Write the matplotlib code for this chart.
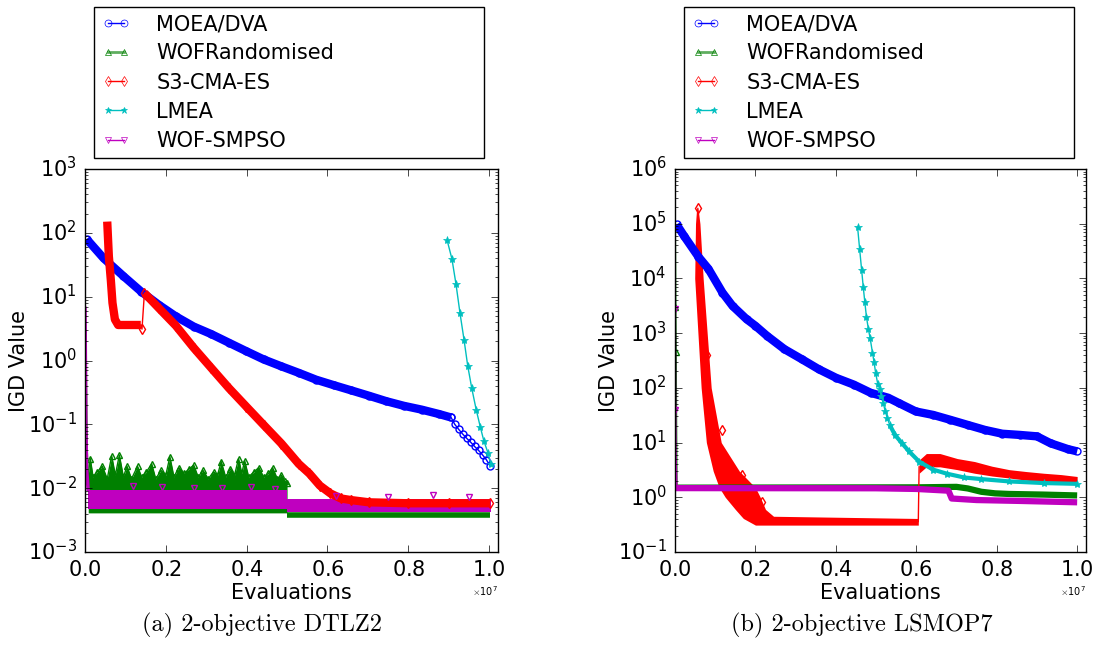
import numpy as np
import matplotlib
matplotlib.use("Agg")
import matplotlib.pyplot as plt
from matplotlib.lines import Line2D
from matplotlib.ticker import ScalarFormatter

plt.style.use("classic")
plt.rcParams.update({
    "font.family": ["DejaVu Sans"],
    "figure.facecolor": "white",
    "savefig.facecolor": "white",
    "axes.formatter.use_mathtext": True,
    "xtick.labelsize": 15,
    "ytick.labelsize": 15,
    "axes.labelsize": 15,
    "xtick.major.size": 5, "xtick.minor.size": 2.5,
    "ytick.major.size": 5, "ytick.minor.size": 2.5,
    "xtick.major.pad": 6, "ytick.major.pad": 6,
    "legend.numpoints": 2,
})

EVAL_UNIT = 1e7          # evaluations are listed in units of 1e7
BAND = 6                 # width used for densely sampled runs

labels = ["MOEA/DVA", "WOFRandomised", "S3-CMA-ES", "LMEA", "WOF-SMPSO"]
colors = ["b", "g", "r", "c", "m"]
markers = ["o", "^", "d", "*", "v"]

# ---------------- 2-objective DTLZ2 ----------------
dtlz_moea_x = [0.004, 0.046, 0.095, 0.139, 0.182, 0.225, 0.269, 0.312, 0.356, 0.399, 0.442,
               0.486, 0.529, 0.572, 0.616, 0.659, 0.703, 0.746, 0.789, 0.833, 0.876, 0.906]
dtlz_moea_y = [80, 40, 21, 12, 7.5, 4.9, 3.4, 2.6, 1.9, 1.4, 1.04,
               0.81, 0.64, 0.50, 0.41, 0.34, 0.28, 0.23, 0.195, 0.17, 0.145, 0.128]
dtlz_moea_tail_x = [0.906, 0.915, 0.925, 0.935, 0.945, 0.955, 0.964, 0.974, 0.984, 0.993, 1.003]
dtlz_moea_tail_y = [0.128, 0.100, 0.083, 0.070, 0.060, 0.052, 0.045, 0.039, 0.033, 0.028, 0.022]

dtlz_wofr_init_x = [0.000, 0.001, 0.002, 0.003, 0.005, 0.008]
dtlz_wofr_init_y = [3.0, 0.5, 0.12, 0.04, 0.018, 0.013]
dtlz_wofr_x = [0.008, 0.013, 0.020, 0.030, 0.043, 0.055, 0.066, 0.075, 0.085, 0.095, 0.104, 0.115,
               0.130, 0.140, 0.152, 0.165, 0.175, 0.188, 0.200, 0.210, 0.220, 0.232, 0.245, 0.258,
               0.269, 0.280, 0.292, 0.305, 0.318, 0.328, 0.337, 0.348, 0.360, 0.370, 0.380, 0.388,
               0.395, 0.405, 0.418, 0.430, 0.442, 0.454, 0.464, 0.476, 0.486, 0.494, 0.500]
dtlz_wofr_top = [0.016, 0.029, 0.015, 0.018, 0.022, 0.014, 0.032, 0.016, 0.033, 0.015, 0.022, 0.014,
                 0.022, 0.015, 0.018, 0.024, 0.014, 0.019, 0.016, 0.031, 0.015, 0.021, 0.017, 0.020,
                 0.023, 0.015, 0.019, 0.014, 0.018, 0.016, 0.026, 0.015, 0.020, 0.016, 0.029, 0.017,
                 0.027, 0.015, 0.018, 0.021, 0.015, 0.017, 0.021, 0.014, 0.016, 0.013, 0.012]
dtlz_wofr_floor = 0.0041
dtlz_wofr_flat_x = [0.500, 0.750, 1.003]
dtlz_wofr_flat_y = [0.0038, 0.0038, 0.0038]

dtlz_s3_drop_x = [0.055, 0.059, 0.064, 0.068, 0.074, 0.082, 0.100, 0.120, 0.138]
dtlz_s3_drop_y = [150, 43, 18, 8.0, 4.4, 3.6, 3.6, 3.6, 3.6]
dtlz_s3_link_x = [0.138, 0.141, 0.147]
dtlz_s3_link_y = [3.6, 3.1, 11.4]
dtlz_s3_x = [0.147, 0.182, 0.225, 0.269, 0.312, 0.356, 0.399, 0.442, 0.486, 0.529, 0.555,
             0.581, 0.607, 0.633, 0.659, 0.703, 0.800, 0.900, 1.003]
dtlz_s3_y = [11.4, 6.7, 3.5, 1.58, 0.77, 0.37, 0.19, 0.098, 0.050, 0.024, 0.017,
             0.011, 0.0083, 0.0069, 0.0065, 0.0060, 0.0058, 0.0058, 0.0058]

dtlz_lmea_x = [0.896, 0.908, 0.918, 0.928, 0.938, 0.947, 0.957, 0.968, 0.978, 0.987, 0.997, 1.004]
dtlz_lmea_y = [77, 39, 15.8, 5.5, 2.1, 0.83, 0.37, 0.17, 0.092, 0.055, 0.036, 0.024]

dtlz_smpso_init_x = [0.000, 0.001, 0.002, 0.004, 0.008]
dtlz_smpso_init_y = [7.0, 1.0, 0.1, 0.02, 0.009]
dtlz_smpso_x = [0.008, 0.500, 0.500, 1.005]
dtlz_smpso_lo = [0.0047, 0.0047, 0.0043, 0.0043]
dtlz_smpso_hi = [0.0095, 0.0095, 0.0068, 0.0068]
dtlz_smpso_peak_x = [0.12, 0.19, 0.27, 0.34, 0.41, 0.47, 0.62, 0.75, 0.86, 0.95]
dtlz_smpso_peak_y = [0.011, 0.0105, 0.010, 0.0102, 0.0105, 0.0098, 0.0075, 0.0072, 0.0078, 0.0073]

# ---------------- 2-objective LSMOP7 ----------------
lsmop_moea_x = [0.004, 0.023, 0.058, 0.083, 0.118, 0.143, 0.178, 0.200, 0.229, 0.272, 0.315, 0.358,
                0.401, 0.444, 0.487, 0.530, 0.556, 0.599, 0.642, 0.685, 0.728, 0.771, 0.814, 0.857,
                0.900, 0.934, 0.977, 1.000]
lsmop_moea_y = [97000, 59000, 25000, 15000, 5500, 3150, 1800, 1360, 890, 510, 335, 218,
                152, 115, 81, 66, 53, 37, 32, 26, 21, 17, 14.5, 13.8,
                13, 9.7, 7.6, 6.9]

lsmop_wofr_init_x = [0.000, 0.001, 0.002, 0.003, 0.004]
lsmop_wofr_init_y = [80000, 3000, 450, 20, 1.6]
lsmop_wofr_x = [0.004, 0.600, 0.700, 0.728, 0.762, 0.796, 0.831, 0.917, 1.000]
lsmop_wofr_y = [1.50, 1.52, 1.55, 1.45, 1.26, 1.18, 1.15, 1.12, 1.08]

# early S3-CMA-ES spread: left and right edges of the sample cloud at each IGD level
lsmop_s3_level = [2.0e5, 1.0e5, 1.0e4, 1.0e3, 1.0e2, 10.0, 3.0, 1.5, 1.0, 0.6, 0.45, 0.41, 0.31]
lsmop_s3_left = [0.054, 0.051, 0.049, 0.057, 0.065, 0.078, 0.095, 0.110, 0.125, 0.150, 0.165, 0.170, 0.200]
lsmop_s3_right = [0.057, 0.062, 0.070, 0.080, 0.090, 0.115, 0.160, 0.200, 0.212, 0.225, 0.245, 0.605, 0.605]
lsmop_s3_mark_x = [0.056, 0.079, 0.105, 0.116, 0.124, 0.167, 0.216]
lsmop_s3_mark_y = [1.95e5, 400, 9.8, 17, 5.5, 2.6, 0.83]
lsmop_s3_link_x = [0.605, 0.607]
lsmop_s3_link_y = [0.36, 3.6]
lsmop_s3_late_x = [0.607, 0.625, 0.659, 0.702, 0.745, 0.788, 0.831, 0.874, 0.917, 0.960, 1.000]
lsmop_s3_late_hi = [4.8, 6.3, 6.3, 5.1, 4.5, 3.7, 3.2, 2.95, 2.75, 2.6, 2.4]
lsmop_s3_late_lo = [2.75, 3.6, 3.6, 3.2, 2.75, 2.45, 2.25, 2.05, 1.9, 1.85, 1.78]

lsmop_lmea_x = [0.454, 0.459, 0.464, 0.468, 0.472, 0.476, 0.481, 0.485, 0.491, 0.495,
                0.499, 0.504, 0.509, 0.513, 0.518, 0.523, 0.528, 0.534,
                0.547, 0.564, 0.582, 0.607, 0.642, 0.676, 0.719, 0.762, 0.831, 0.917, 1.000]
lsmop_lmea_y = [87000, 35000, 14500, 7100, 3700, 2000, 1170, 830, 440, 295,
                186, 120, 95, 71, 52, 37, 28, 21,
                13.8, 9.8, 6.9, 4.5, 3.2, 2.7, 2.3, 2.15, 1.95, 1.82, 1.76]
LMEA_DENSE_FROM = 17   # index where LSMOP7 LMEA samples become dense

lsmop_smpso_init_x = [0.000, 0.001, 0.002, 0.004]
lsmop_smpso_init_y = [2800, 40, 5, 1.6]
lsmop_smpso_x = [0.000, 0.500, 0.600, 0.680, 0.688, 0.750, 0.850, 1.000]
lsmop_smpso_y = [1.47, 1.46, 1.42, 1.32, 0.95, 0.89, 0.86, 0.81]


def ev(values):
    return np.asarray(values, dtype=float) * EVAL_UNIT


def open_marks(ax, x, y, color, marker, ms=5, lw=0, **kw):
    ax.plot(ev(x), y, color=color, lw=lw, marker=marker, ms=ms,
            mfc="none", mec=color, mew=1, **kw)


def dense(ax, x, y, color, lw=BAND):
    ax.plot(ev(x), y, color=color, lw=lw, solid_capstyle="butt",
            solid_joinstyle="round")


fig = plt.figure(figsize=(11.03, 6.48), dpi=100)
ax1 = fig.add_axes([85 / 1103, 1 - 552 / 648, 413 / 1103, 383 / 648])
ax2 = fig.add_axes([675 / 1103, 1 - 552 / 648, 411 / 1103, 383 / 648])

# ---- DTLZ2 panel ----
dense(ax1, dtlz_moea_x, dtlz_moea_y, "b")
open_marks(ax1, dtlz_moea_x, dtlz_moea_y, "b", "o")
open_marks(ax1, dtlz_moea_tail_x, dtlz_moea_tail_y, "b", "o", lw=1)

dense(ax1, dtlz_wofr_init_x, dtlz_wofr_init_y, "g", lw=2.5)
ax1.fill_between(ev(dtlz_wofr_x), dtlz_wofr_floor, dtlz_wofr_top, color="g", lw=0)
open_marks(ax1, dtlz_wofr_x, dtlz_wofr_top, "g", "^", lw=1)
dense(ax1, dtlz_wofr_flat_x, dtlz_wofr_flat_y, "g", lw=4)

dense(ax1, dtlz_s3_drop_x, dtlz_s3_drop_y, "r")
ax1.plot(ev(dtlz_s3_link_x), dtlz_s3_link_y, color="r", lw=1)
open_marks(ax1, dtlz_s3_link_x[1:2], dtlz_s3_link_y[1:2], "r", "d")
dense(ax1, dtlz_s3_x, dtlz_s3_y, "r")
open_marks(ax1, dtlz_s3_x, dtlz_s3_y, "r", "d")

ax1.plot(ev(dtlz_lmea_x), dtlz_lmea_y, color="c", lw=1, marker="*", ms=6,
         mfc="c", mec="c")

dense(ax1, dtlz_smpso_init_x, dtlz_smpso_init_y, "m", lw=2.5)
ax1.fill_between(ev(dtlz_smpso_x), dtlz_smpso_lo, dtlz_smpso_hi, color="m", lw=0)
open_marks(ax1, dtlz_smpso_peak_x, dtlz_smpso_peak_y, "m", "v")

ax1.set_ylim(1e-3, 1e3)

# ---- LSMOP7 panel ----
dense(ax2, lsmop_moea_x, lsmop_moea_y, "b")
open_marks(ax2, lsmop_moea_x, lsmop_moea_y, "b", "o")

dense(ax2, lsmop_wofr_init_x, lsmop_wofr_init_y, "g", lw=1.5)
open_marks(ax2, lsmop_wofr_init_x[1:3], lsmop_wofr_init_y[1:3], "g", "^")
dense(ax2, lsmop_wofr_x, lsmop_wofr_y, "g", lw=4.5)

ax2.fill_betweenx(lsmop_s3_level, ev(lsmop_s3_left), ev(lsmop_s3_right), color="r", lw=0)
open_marks(ax2, lsmop_s3_mark_x, lsmop_s3_mark_y, "r", "d")
ax2.plot(ev(lsmop_s3_link_x), lsmop_s3_link_y, color="r", lw=1)
ax2.fill_between(ev(lsmop_s3_late_x), lsmop_s3_late_lo, lsmop_s3_late_hi, color="r", lw=0)

ax2.plot(ev(lsmop_lmea_x), lsmop_lmea_y, color="c", lw=1, marker="*", ms=6,
         mfc="c", mec="c")
dense(ax2, lsmop_lmea_x[LMEA_DENSE_FROM:], lsmop_lmea_y[LMEA_DENSE_FROM:], "c", lw=3)

dense(ax2, lsmop_smpso_init_x, lsmop_smpso_init_y, "m", lw=1.5)
open_marks(ax2, lsmop_smpso_init_x[:2], lsmop_smpso_init_y[:2], "m", "v")
dense(ax2, lsmop_smpso_x, lsmop_smpso_y, "m", lw=4.5)

ax2.set_ylim(1e-1, 1e6)

handles = []
for lab, c, m in zip(labels, colors, markers):
    line_c = "#5fae5f" if c == "g" else c
    lw = 2 if c == "g" else 1
    handles.append(Line2D([], [], color=line_c, lw=lw, marker=m, ms=5,
                          mfc=(c if m == "*" else "none"), mec=c))

for ax, caption, cx, leg_x in [(ax1, "(a) 2-objective DTLZ2", 262, 94),
                               (ax2, "(b) 2-objective LSMOP7", 862, 684)]:
    ax.set_yscale("log")
    ax.set_xlim(0, 1.022e7)
    ax.set_xticks(ev([0.0, 0.2, 0.4, 0.6, 0.8, 1.0]))
    fmt = ScalarFormatter(useMathText=True)
    fmt.set_powerlimits((0, 0))
    ax.xaxis.set_major_formatter(fmt)
    ax.xaxis.get_offset_text().set_fontsize(7)
    ax.tick_params(which="both", direction="in", top=True, right=True)
    ax.set_xlabel("Evaluations", labelpad=2)
    ax.set_ylabel("IGD Value", labelpad=-1)
    ax.legend(handles, labels, loc="upper left",
              bbox_to_anchor=(leg_x / 1103, 1 - 159 / 648, 390 / 1103, 152 / 648),
              bbox_transform=fig.transFigure, mode="expand", borderaxespad=0,
              fontsize=15, handlelength=1.4, handletextpad=1.25,
              labelspacing=0.44, borderpad=0.35, fancybox=False, shadow=False,
              frameon=True, edgecolor="black", framealpha=1)
    fig.text(cx / 1103, 1 - 625 / 648, caption, family="cmr10", size=17.5,
             ha="center", va="center")

fig.savefig("out.png", dpi=100)
